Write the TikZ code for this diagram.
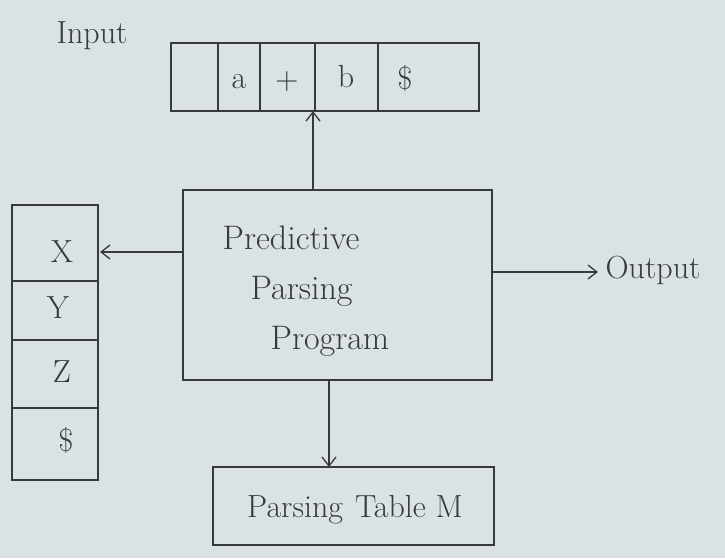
\documentclass[tikz,border=0pt]{standalone}
\usetikzlibrary{arrows.meta}
\definecolor{paper}{RGB}{218,226,228}
\definecolor{ink}{RGB}{55,58,60}
\begin{document}
\begin{tikzpicture}[x=1pt,y=-1pt,
  line width=1.4pt, draw=ink, text=ink,
  box/.style={draw=ink, line width=1.4pt, inner sep=0pt},
  lbl/.style={font=\fontsize{32}{36}\selectfont, text=ink, inner sep=0pt},
  conn/.style={draw=ink, line width=1.3pt, -{Straight Barb[length=9pt,width=14pt]}}]
\fill[paper] (0,0) rectangle (725,558);
\useasboundingbox (0,0) rectangle (725,558);
% Input label
\node[lbl, font=\fontsize{32}{36}\selectfont] (inlbl) at (92,36) {Input};
% Input tape
\node[box, minimum width=308pt, minimum height=68pt] (tape) at (325,77) {};
\draw (218,43) -- (218,111);
\draw (260,43) -- (260,111);
\draw (315,43) -- (315,111);
\draw (378,43) -- (378,111);
\node[lbl] (ca) at (239,82) {a};
\node[lbl] (cp) at (287,82) {+};
\node[lbl] (cb) at (346,77) {b};
\node[lbl] (cd) at (405,78) {\$};
% Program
\node[box, minimum width=309pt, minimum height=190pt] (prog) at (337.5,285) {};
\node[lbl, font=\fontsize{34}{50}\selectfont, align=left, anchor=north west] (progtxt) at (222,225)
  {Predictive\\\hspace*{28pt}Parsing\\\hspace*{48pt}Program};
% Stack
\node[box, minimum width=86pt, minimum height=275pt] (stack) at (55,342.5) {};
\draw (12,281) -- (98,281);
\draw (12,340) -- (98,340);
\draw (12,408) -- (98,408);
\node[lbl] (sx) at (62,252) {X};
\node[lbl] (sy) at (58,308) {Y};
\node[lbl] (sz) at (62,372) {Z};
\node[lbl] (sd) at (66,440) {\$};
% Table
\node[box, minimum width=281pt, minimum height=78pt] (table) at (353.5,506) {};
\node[lbl] (tabtxt) at (355,510) {Parsing\hspace{12pt}Table M};
% Output label
\node[lbl, font=\fontsize{32}{36}\selectfont, anchor=west] (outlbl) at (605,270) {Output};
% Connectors
\coordinate (tapeA) at (313,111);
\coordinate (progT) at (313,190);
\draw[conn] (progT) -- (tapeA);
\coordinate (progL) at (183,252);
\coordinate (stackR) at (100,252);
\draw[conn] (progL) -- (stackR);
\coordinate (progR) at (492,272);
\coordinate (outA) at (598,272);
\draw[conn] (progR) -- (outA);
\coordinate (progB) at (329,380);
\coordinate (tableT) at (329,467);
\draw[conn] (progB) -- (tableT);
\end{tikzpicture}
\end{document}
